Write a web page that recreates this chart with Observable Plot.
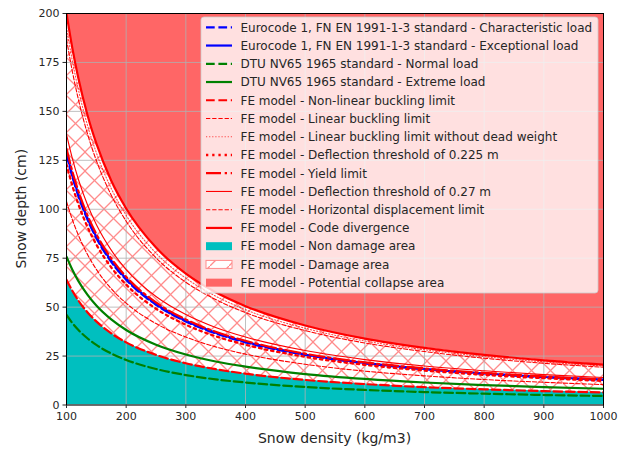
<!DOCTYPE html>
<html><head><meta charset="utf-8">
<script src="https://cdn.jsdelivr.net/npm/d3@7"></script>
<script src="https://cdn.jsdelivr.net/npm/@observablehq/plot@0.6"></script>
<style>body{margin:0;background:#fff;font-family:"DejaVu Sans",sans-serif}</style>
</head><body><div id="chart"></div>
<script>
// Snow density (kg/m3) sample points
const density = [100,110,120,135,150,175,200,250,300,350,400,500,600,700,800,900,1000];
// Snow depth (cm) for each curve
const euroCharacteristic = [128,116.4,106.7,94.8,85.3,73.1,64,51.2,42.7,36.6,32,25.6,21.3,18.3,16,14.2,12.8];
const euroExceptional    = [129,117.3,107.5,95.6,86,73.7,64.5,51.6,43,36.9,32.3,25.8,21.5,18.4,16.1,14.3,12.9];
const dtuNormal          = [46,41.8,38.3,34.1,30.7,26.3,23,18.4,15.3,13.1,11.5,9.2,7.7,6.6,5.8,5.1,4.6];
const dtuExtreme         = [75.8,69.0,63.3,56.4,50.8,43.7,38.3,30.8,25.8,22.2,19.6,15.8,13.3,11.5,10.2,9.1,8.3];
const feNonLinBuckling   = [64,58.2,53.3,47.4,42.7,36.6,32,25.6,21.3,18.3,16,12.8,10.7,9.1,8,7.1,6.4];
const feLinBuckling      = [187,170.1,156,138.7,124.9,107.2,93.9,75.2,62.7,53.9,47.2,38,31.7,27.3,23.9,21.3,19.3];
const feLinBucklingNoDW  = [193,175.5,161,143.1,128.9,110.6,96.9,77.6,64.8,55.6,48.7,39.2,32.7,28.2,24.7,22,19.9];
const feDefl0225         = [123,111.8,102.5,91.1,82,70.3,61.5,49.2,41,35.1,30.8,24.6,20.5,17.6,15.4,13.7,12.3];
const feYield            = [131,119.1,109.2,97,87.3,74.9,65.5,52.4,43.7,37.4,32.8,26.2,21.8,18.7,16.4,14.6,13.1];
const feDefl027          = [138.2,125.7,115.2,102.4,92.2,79.1,69.2,55.4,46.2,39.6,34.7,27.8,23.2,19.9,17.5,15.5,14];
const feHorizDisp        = [104,94.5,86.7,77,69.3,59.4,52,41.6,34.7,29.7,26,20.8,17.3,14.9,13,11.6,10.4];
const feCodeDivergence   = [200,181.9,166.8,148.3,133.6,114.6,100.4,80.4,67.1,57.6,50.5,40.6,33.9,29.2,25.6,22.8,20.6];

const xTicks = [100,200,300,400,500,600,700,800,900,1000];
const yTicks = [0,25,50,75,100,125,150,175,200];

const seriesLabels = [
  "Eurocode 1, FN EN 1991-1-3 standard - Characteristic load",
  "Eurocode 1, FN EN 1991-1-3 standard - Exceptional load",
  "DTU NV65 1965 standard - Normal load",
  "DTU NV65 1965 standard - Extreme load",
  "FE model - Non-linear buckling limit",
  "FE model - Linear buckling limit",
  "FE model - Linear buckling limit without dead weight",
  "FE model - Deflection threshold of 0.225 m",
  "FE model - Yield limit",
  "FE model - Deflection threshold of 0.27 m",
  "FE model - Horizontal displacement limit",
  "FE model - Code divergence"
];
const areaLabels = ["FE model - Non damage area","FE model - Damage area","FE model - Potential collapse area"];

const seriesValues = [euroCharacteristic, euroExceptional, dtuNormal, dtuExtreme, feNonLinBuckling,
  feLinBuckling, feLinBucklingNoDW, feDefl0225, feYield, feDefl027, feHorizDisp, feCodeDivergence];

const styles = [
  {stroke:"#0000ff", w:2.2, dash:"8.7,3.7", op:1},
  {stroke:"#0000ff", w:2.2, dash:null, op:1},
  {stroke:"#008000", w:2.2, dash:"8.7,3.7", op:1},
  {stroke:"#008000", w:2.2, dash:null, op:1},
  {stroke:"#ff0000", w:2.2, dash:"8.7,3.7", op:1},
  {stroke:"#ff0000", w:1.1, dash:"4.3,1.9", op:1},
  {stroke:"#ff0000", w:1.1, dash:"1.2,1.9", op:0.7},
  {stroke:"#ff0000", w:2.3, dash:"2.3,3.9", op:1},
  {stroke:"#ff0000", w:2.2, dash:"15,3.7,2.3,3.7", op:1},
  {stroke:"#ff0000", w:1.1, dash:null, op:1},
  {stroke:"#ff0000", w:1.1, dash:"4.3,1.9", op:1},
  {stroke:"#ff0000", w:2.2, dash:null, op:1}
];
const areaColors = {nonDamage:"#00bfbf", collapse:"#ff6666", hatch:"#ff8c8c"};
const hatchSize = 19;

const rows = density.map((x,i)=>{
  const r = {x};
  seriesValues.forEach((v,j)=>{ r["s"+j] = v[i]; });
  return r;
});

const lineMarks = seriesValues.map((v,j)=>Plot.line(rows, {
  x:"x", y:"s"+j, stroke:styles[j].stroke, strokeWidth:styles[j].w,
  strokeDasharray: styles[j].dash || undefined, strokeOpacity: styles[j].op,
  curve:"monotone-x", clip:true
}));

const chart = Plot.plot({
  width:618, height:449,
  marginLeft:66, marginRight:15, marginTop:13, marginBottom:44.5,
  style:{fontFamily:'"DejaVu Sans", sans-serif', fontSize:"11px", color:"#262626", background:"white"},
  x:{domain:[100,1000], ticks:xTicks, tickSize:3.5, tickPadding:3.5, label:null, tickFormat:d=>String(d)},
  y:{domain:[0,200], ticks:yTicks, tickSize:3.5, tickPadding:3.5, label:null, tickFormat:d=>String(d)},
  marks:[
    Plot.areaY(rows, {x:"x", y1:"s11", y2:200, fill:areaColors.collapse, curve:"monotone-x", clip:true}),
    Plot.areaY(rows, {x:"x", y1:"s4", y2:"s11", fill:"url(#dmg-hatch)", curve:"monotone-x", clip:true}),
    Plot.areaY(rows, {x:"x", y1:0, y2:"s4", fill:areaColors.nonDamage, curve:"monotone-x", clip:true}),
    Plot.gridX(xTicks, {stroke:"#b0b0b0", strokeOpacity:1, strokeWidth:0.8}),
    Plot.gridY(yTicks, {stroke:"#b0b0b0", strokeOpacity:1, strokeWidth:0.8}),
    ...lineMarks,
    Plot.frame({stroke:"#000", strokeWidth:1})
  ]
});
document.getElementById("chart").appendChild(chart);

const svg = d3.select(chart);
const defs = svg.insert("defs", ":first-child");
function makePattern(id, lines, x0) {
  const s = hatchSize;
  const p = defs.append("pattern").attr("id", id).attr("patternUnits","userSpaceOnUse")
    .attr("width",s).attr("height",s).attr("x", x0).attr("y", 0);
  p.append("rect").attr("width",s).attr("height",s).attr("fill","#ffffff").attr("stroke","none");
  lines.forEach(([x1,y1,x2,y2])=>{
    p.append("line").attr("x1",x1*s).attr("y1",y1*s).attr("x2",x2*s).attr("y2",y2*s)
      .attr("stroke", areaColors.hatch).attr("stroke-width", 1.25)
      .style("stroke", areaColors.hatch).style("stroke-opacity", 1);
  });
}
makePattern("dmg-hatch", [[0,0,1,1],[1,0,0,1]], 66);
makePattern("leg-hatch", [[0,1,1,0]], 210);

// axis labels
svg.append("text").attr("x", 334.5).attr("y", 443).attr("text-anchor","middle")
  .attr("font-size", "14px").attr("fill","#262626").text("Snow density (kg/m3)");
svg.append("text").attr("transform","translate(26,208.7) rotate(-90)").attr("text-anchor","middle")
  .attr("font-size", "14px").attr("fill","#262626").text("Snow depth (cm)");

// legend
const lg = svg.append("g").attr("font-size","12px").attr("fill","#262626").attr("text-anchor","start");
lg.append("rect").attr("x",201).attr("y",17).attr("width",397).attr("height",276).attr("rx",3)
  .attr("fill","white").attr("fill-opacity",0.8).attr("stroke","#cccccc").attr("stroke-opacity",0.8);
const rowY = i => 27.3 + i*18.24;
seriesLabels.forEach((t,i)=>{
  const s = styles[i], cy = rowY(i);
  lg.append("line").attr("x1",206).attr("x2",232).attr("y1",cy).attr("y2",cy)
    .attr("stroke",s.stroke).attr("stroke-width",s.w).attr("stroke-opacity",s.op)
    .attr("stroke-dasharray", s.dash || null);
  lg.append("text").attr("x",240.5).attr("y",cy+4.3).attr("text-anchor","start").text(t);
});
const patchFills = [areaColors.nonDamage, "url(#leg-hatch)", areaColors.collapse];
areaLabels.forEach((t,k)=>{
  const i = seriesLabels.length + k, cy = rowY(i);
  lg.append("rect").attr("x",206).attr("y",cy-4).attr("width",26).attr("height",8)
    .attr("fill",patchFills[k]).attr("stroke", k===1 ? areaColors.hatch : "none");
  lg.append("text").attr("x",240.5).attr("y",cy+4.3).attr("text-anchor","start").text(t);
});
</script></body></html>
